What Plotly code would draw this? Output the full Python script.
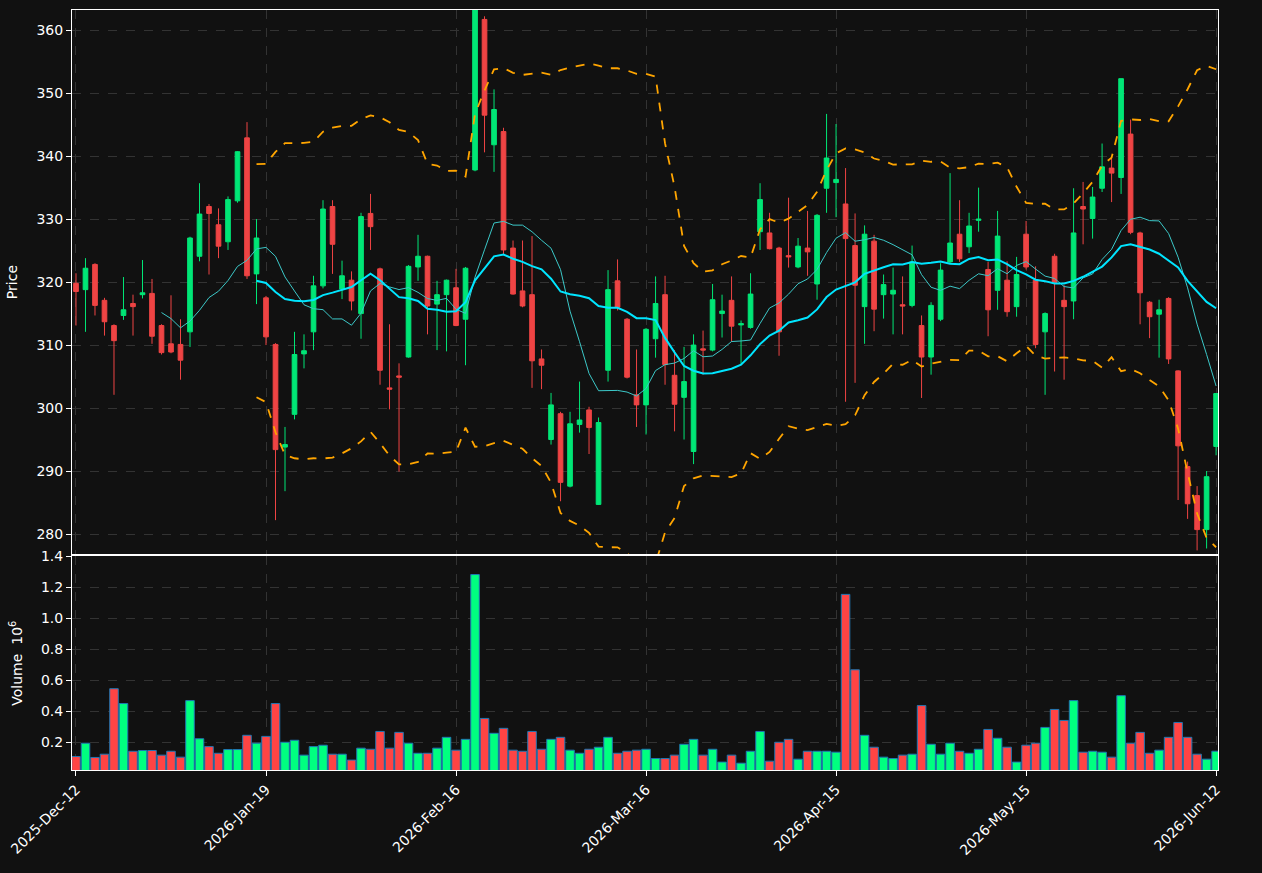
import numpy as np
import pandas as pd
import plotly.graph_objects as go
from plotly.subplots import make_subplots

opens = [319.8,318.8,322.8,317.1,313.1,314.7,316.6,318.0,318.2,313.1,310.2,310.1,312.1,324.1,332.0,329.1,326.4,332.9,342.9,321.3,
         317.5,310.1,293.8,299.0,308.6,312.1,319.4,332.0,318.9,320.3,315.0,330.9,322.1,303.2,305.1,308.1,322.4,324.1,316.5,318.0,
         319.1,314.1,337.8,361.7,341.8,343.9,325.4,318.6,318.0,307.8,295.0,299.1,287.6,297.4,299.7,284.7,306.0,320.2,314.1,302.1,
         300.5,311.0,318.0,305.2,301.7,293.1,309.4,309.2,315.0,317.1,313.2,312.8,328.0,327.8,325.4,324.2,322.4,325.4,319.7,334.9,
         335.8,332.4,325.8,316.1,326.5,318.0,318.1,316.4,316.3,313.1,308.1,314.1,323.2,327.6,325.6,329.8,322.0,318.7,320.3,316.1,
         327.6,320.3,312.1,324.1,317.1,317.0,332.0,330.1,334.9,338.1,336.6,343.5,327.8,316.8,314.9,317.4,305.9,290.7,286.1,280.7,293.9]
highs = [321.4,323.8,323.0,317.5,313.3,320.8,318.0,323.5,320.5,313.3,317.9,314.1,327.2,335.7,332.4,331.7,333.6,340.8,345.4,330.0,
         317.8,310.3,297.0,312.1,311.7,321.0,333.0,333.0,323.4,321.7,331.0,334.0,322.3,313.3,307.1,322.7,327.5,324.2,320.2,320.4,
         322.1,322.4,364.0,362.2,350.6,344.5,326.6,326.6,327.3,309.3,302.4,299.4,299.4,304.2,300.2,298.5,321.9,323.6,314.3,309.3,
         312.7,320.9,321.0,309.2,309.7,311.7,312.3,319.7,318.0,320.9,313.9,321.4,335.7,331.0,325.6,333.4,327.0,331.3,330.8,346.7,
         345.1,338.1,330.9,329.0,327.5,321.2,322.3,320.9,325.8,314.7,316.8,323.0,337.3,333.0,331.0,335.0,323.2,331.3,323.3,324.0,
         329.7,322.5,315.2,324.5,319.5,334.9,335.9,335.1,342.0,339.9,352.3,345.8,328.0,317.0,317.2,317.6,306.0,291.5,287.6,290.0,302.3]
lows = [313.1,312.1,314.7,311.5,302.1,314.0,311.5,317.4,310.2,308.5,308.7,304.5,309.7,323.3,321.2,323.8,325.1,332.6,320.5,316.5,
        310.0,282.2,286.8,298.2,306.3,309.2,319.0,321.3,317.3,315.5,311.0,325.1,303.7,299.8,289.9,308.0,320.2,311.7,309.2,309.0,
        313.0,306.8,337.6,340.6,337.5,324.4,318.0,316.0,303.2,303.0,294.2,285.2,287.4,296.1,292.7,284.6,304.2,315.5,304.7,297.0,
        295.8,308.0,303.7,296.3,295.0,291.1,305.3,309.0,311.2,310.5,307.0,312.6,325.1,325.2,308.3,322.3,322.2,321.0,317.2,331.0,
        330.3,301.0,304.0,310.2,312.2,314.2,311.7,311.7,316.0,301.6,305.3,313.8,323.0,323.2,324.6,328.0,311.4,315.6,314.5,314.5,
        322.0,309.5,302.1,305.8,304.5,314.1,326.0,326.9,334.3,332.7,334.0,327.6,313.3,311.1,308.0,307.0,285.4,282.4,277.4,277.7,292.5]
closes = [318.5,322.2,316.3,313.7,310.7,315.6,316.1,318.3,311.4,308.8,308.9,307.6,327.0,330.8,330.9,325.7,333.1,340.7,321.0,327.0,
          311.3,293.4,294.2,308.5,309.1,319.4,331.6,326.0,321.0,317.0,330.4,328.8,306.0,303.0,304.9,322.5,324.1,316.2,318.0,320.3,
          313.1,322.2,363.5,346.5,347.4,325.1,318.1,316.2,307.5,306.8,300.5,288.2,297.5,298.1,296.9,297.7,318.8,316.0,304.9,300.5,
          312.5,316.6,306.9,300.6,304.2,310.0,309.2,317.2,315.4,313.0,313.4,318.1,333.1,325.3,312.1,324.0,325.7,324.8,330.6,339.7,
          336.3,326.9,319.5,327.6,315.7,319.6,318.7,316.2,323.2,308.1,316.3,321.9,326.2,323.7,328.9,330.0,315.6,327.3,315.3,321.2,
          322.4,310.1,315.0,319.9,316.1,327.8,331.6,333.5,338.3,337.3,352.3,327.9,318.3,314.5,315.6,307.8,294.0,284.8,280.7,289.1,302.3]
volumes = [0.108,0.194,0.102,0.123,0.546,0.450,0.142,0.147,0.147,0.117,0.142,0.104,0.469,0.223,0.172,0.129,0.153,0.153,0.245,0.194,
           0.238,0.450,0.200,0.213,0.117,0.172,0.181,0.123,0.123,0.085,0.162,0.155,0.270,0.162,0.264,0.194,0.129,0.129,0.162,0.232,
           0.149,0.219,1.283,0.354,0.258,0.290,0.149,0.142,0.270,0.155,0.219,0.232,0.149,0.129,0.155,0.168,0.232,0.129,0.142,0.149,
           0.155,0.095,0.095,0.117,0.187,0.219,0.117,0.155,0.072,0.117,0.065,0.142,0.270,0.078,0.200,0.219,0.091,0.142,0.142,0.142,
           0.136,1.155,0.668,0.245,0.168,0.104,0.095,0.117,0.123,0.437,0.187,0.123,0.194,0.142,0.129,0.155,0.283,0.226,0.168,0.072,
           0.181,0.194,0.296,0.412,0.341,0.469,0.136,0.142,0.136,0.104,0.501,0.194,0.264,0.129,0.149,0.232,0.328,0.232,0.123,0.091,0.142]
tick_idx = [0, 20, 40, 60, 80, 100, 120]
tick_labels = ["2025-Dec-12", "2026-Jan-19", "2026-Feb-16", "2026-Mar-16", "2026-Apr-15", "2026-May-15", "2026-Jun-12"]

x = list(range(len(closes)))
cs = pd.Series(closes)
ma10 = cs.rolling(10).mean()
ma20 = cs.rolling(20).mean()
sd20 = cs.rolling(20).std()
upper = ma20 + 2 * sd20
lower = ma20 - 2 * sd20

up_c, dn_c = "#00e676", "#ef4444"
vol_colors = ["#00ff80" if c >= o else "#ff4444" for o, c in zip(opens, closes)]

fig = make_subplots(rows=2, cols=1, shared_xaxes=True, vertical_spacing=0.003)
fig.add_trace(go.Candlestick(x=x, open=opens, high=highs, low=lows, close=closes,
    increasing=dict(line=dict(color=up_c, width=1), fillcolor=up_c),
    decreasing=dict(line=dict(color=dn_c, width=1), fillcolor=dn_c),
    whiskerwidth=0, showlegend=False), row=1, col=1)
fig.add_trace(go.Scatter(x=x, y=upper, mode="lines", line=dict(color="#ffa500", width=1.8, dash="dash"), showlegend=False), row=1, col=1)
fig.add_trace(go.Scatter(x=x, y=lower, mode="lines", line=dict(color="#ffa500", width=1.8, dash="dash"), showlegend=False), row=1, col=1)
fig.add_trace(go.Scatter(x=x, y=ma10, mode="lines", line=dict(color="#3cc8c8", width=1), showlegend=False), row=1, col=1)
fig.add_trace(go.Scatter(x=x, y=ma20, mode="lines", line=dict(color="#00e5ff", width=2), showlegend=False), row=1, col=1)
fig.add_trace(go.Bar(x=x, y=volumes, marker=dict(color=vol_colors, line=dict(color="#1f77b4", width=1)),
    width=0.9, showlegend=False), row=2, col=1)

axis_common = dict(showline=True, linecolor="white", linewidth=1, mirror=True,
                   gridcolor="#333333", griddash="dash", zeroline=False,
                   ticks="outside", tickcolor="white", tickfont=dict(color="white", size=14))
fig.update_xaxes(**axis_common, range=[-0.42, 120.2], tickvals=tick_idx, ticktext=tick_labels)
fig.update_xaxes(showticklabels=False, rangeslider_visible=False, row=1, col=1)
fig.update_xaxes(tickangle=-45, row=2, col=1)
fig.update_yaxes(**axis_common)
fig.update_yaxes(range=[276.8, 363.2], tickvals=list(range(280, 361, 10)), domain=[0.284, 1.0],
                 title=dict(text="Price", font=dict(color="white", size=14)), row=1, col=1)
fig.update_yaxes(range=[0.021, 1.4], tickvals=[0.2, 0.4, 0.6, 0.8, 1.0, 1.2, 1.4], tickformat=".1f",
                 domain=[0.0, 0.281], title=dict(text="Volume  10<sup>6</sup>", font=dict(color="white", size=14)), row=2, col=1)
fig.update_layout(width=1262, height=873, paper_bgcolor="#111111", plot_bgcolor="#111111",
                  margin=dict(l=72, r=44, t=2, b=103), bargap=0.05,
                  font=dict(family="DejaVu Sans", color="white"))
fig.write_html("out.html", config={"displayModeBar": False},
               post_script="document.body.style.margin='0';document.body.style.background='#111111';")
